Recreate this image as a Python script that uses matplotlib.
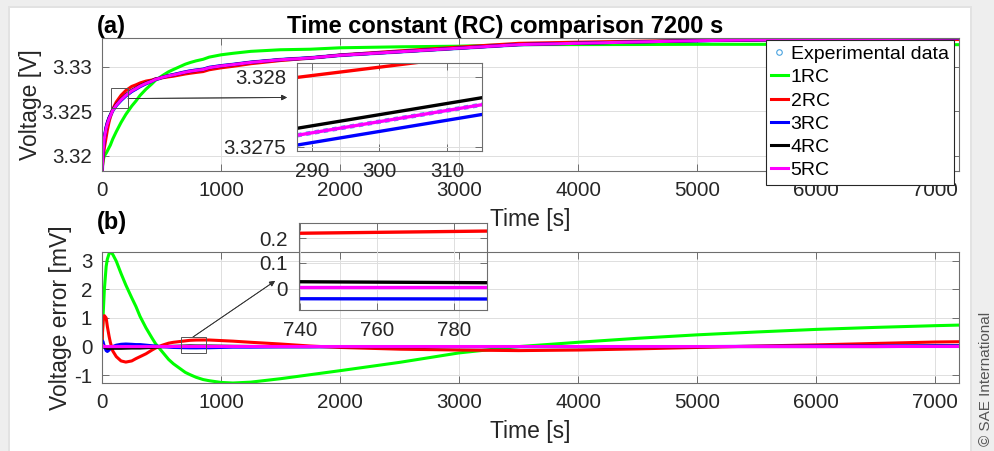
import matplotlib
matplotlib.use('Agg')
import numpy as np
import matplotlib.pyplot as plt
from matplotlib.patches import Rectangle
from matplotlib.lines import Line2D
from matplotlib.ticker import FuncFormatter

# time [s]
t = [0, 5, 10, 20, 35, 45, 60, 70, 90, 120, 160, 200, 250, 285, 300, 320,
     370, 420, 450, 480, 500, 560, 600, 700, 740, 790, 850, 900, 1000, 1100,
     1250, 1500, 1750, 2000, 2500, 3000, 3500, 4000, 4500, 5000, 5500, 6000,
     6500, 7000, 7200]

# measured voltage [V]
v_exp = [3.3183, 3.3196, 3.3207, 3.3220, 3.3231, 3.3236, 3.3242, 3.3245,
         3.3251, 3.3257, 3.3263, 3.3268, 3.3273, 3.32756, 3.32768, 3.32784,
         3.32815, 3.3284, 3.3286, 3.3287, 3.3288, 3.3290, 3.3291, 3.3294,
         3.3295, 3.3296, 3.3297, 3.3299, 3.3301, 3.33025, 3.3305, 3.3308,
         3.3310, 3.3313, 3.3317, 3.3321, 3.3325, 3.33265, 3.3328, 3.33294,
         3.33304, 3.33312, 3.33318, 3.33322, 3.33324]

# voltage error (exp - model) [mV]
err_1rc = [0, 0.6, 1.15, 2.0, 2.8, 3.05, 3.25, 3.3, 3.22, 2.98, 2.55, 2.15,
           1.7, 1.4, 1.25, 1.05, 0.65, 0.3, 0.1, -0.05, -0.15, -0.45, -0.6,
           -0.9, -0.98, -1.07, -1.15, -1.19, -1.25, -1.27, -1.24, -1.12,
           -0.98, -0.84, -0.55, -0.22, 0.0, 0.15, 0.29, 0.41, 0.51, 0.6,
           0.67, 0.73, 0.75]
err_2rc = [0, 0.6, 0.9, 1.08, 1.0, 0.7, 0.35, 0.15, -0.15, -0.35, -0.5,
           -0.54, -0.5, -0.42, -0.39, -0.35, -0.25, -0.12, -0.05, 0.0, 0.04,
           0.12, 0.15, 0.2, 0.219, 0.228, 0.23, 0.23, 0.21, 0.19, 0.15, 0.09,
           0.02, -0.03, -0.09, -0.12, -0.14, -0.12, -0.08, -0.03, 0.02, 0.06,
           0.11, 0.16, 0.17]
err_3rc = [0, 0.2, 0.15, 0.0, -0.14, -0.17, -0.12, -0.07, 0.0, 0.05, 0.08,
           0.09, 0.08, 0.07, 0.07, 0.07, 0.05, 0.03, 0.02, 0.01, 0.0, -0.02,
           -0.03, -0.04, -0.043, -0.044, -0.04, -0.04, -0.03, -0.02, -0.02,
           -0.01, -0.01, 0.0, 0.0, 0.0, 0.0, 0.0, 0.0, 0.0, 0.01, 0.02, 0.02,
           0.03, 0.03]
err_4rc = [0, 0.05, 0.03, -0.02, -0.05, -0.06, -0.06, -0.06, -0.06, -0.06,
           -0.06, -0.055, -0.05, -0.05, -0.05, -0.05, -0.04, -0.03, -0.02,
           -0.01, -0.005, 0.005, 0.01, 0.02, 0.025, 0.021, 0.02, 0.02, 0.015,
           0.01, 0.005, 0.0, 0.0, 0.0, 0.0, 0.0, 0.0, 0.0, 0.0, 0.0, 0.0,
           0.0, 0.0, 0.01, 0.01]
err_5rc = [0, 0.05, 0.02, 0.0, 0.0, 0.0, 0.0, 0.0, 0.0, 0.0, 0.0, 0.0, 0.0,
           0.0, 0.0, 0.0, 0.0, 0.0, 0.0, 0.0, 0.003, 0.003, 0.003, 0.003,
           0.003, 0.003, 0.003, 0.003, 0.003, 0.003, 0.003, 0.003, 0.003,
           0.003, 0.003, 0.003, 0.003, 0.003, 0.003, 0.003, 0.003, 0.003,
           0.003, 0.003, 0.003]

labels = ['1RC', '2RC', '3RC', '4RC', '5RC']
colors = ['#00ff00', '#ff0000', '#0000ff', '#000000', '#ff00ff']
exp_color = '#4aa3df'

errs = [np.array(e) for e in (err_1rc, err_2rc, err_3rc, err_4rc, err_5rc)]
models = [np.array(v_exp) - e / 1000.0 for e in errs]

plt.rcParams['font.family'] = ['Liberation Sans', 'DejaVu Sans']

W, H = 994, 451
fig = plt.figure(figsize=(W / 100, H / 100), dpi=100)
fig.set_facecolor('#eeeeee')


def fpx(x, y):
    # pixel (from top-left) -> figure fraction
    return (x / W, 1 - y / H)


fig.add_artist(Rectangle(fpx(8, 451), 964 / W, 445 / H, transform=fig.transFigure,
                         facecolor='#e2e2e2', edgecolor='none', zorder=-11))
fig.add_artist(Rectangle(fpx(10, 451), 960 / W, 443 / H, transform=fig.transFigure,
                         facecolor='white', edgecolor='none', zorder=-10))

gfmt = FuncFormatter(lambda v, p: '%g' % v)


def style(ax, fs=14.8, pad=6):
    ax.grid(True, color='#dedede', lw=0.7)
    ax.set_axisbelow(True)
    ax.tick_params(direction='in', top=True, right=True, length=5, width=0.7,
                   color='#6e6e6e', labelcolor='#262626', labelsize=fs, pad=pad)
    for s in ax.spines.values():
        s.set_color('#6e6e6e')
        s.set_linewidth(0.8)
    ax.xaxis.set_major_formatter(gfmt)
    ax.yaxis.set_major_formatter(gfmt)


# ---- panel (a)
ax_a = fig.add_axes([102 / W, 1 - 171 / H, 857 / W, 133 / H])
ax_a.plot(t, v_exp, color=exp_color, lw=2.8)
for v, c in zip(models, colors):
    ax_a.plot(t, v, color=c, lw=2.2)
all_v = np.concatenate([np.array(v_exp)] + models)
ax_a.set_xlim(0, 7200)
ax_a.set_ylim(all_v.min(), all_v.max())
ax_a.set_xticks(range(0, 7001, 1000))
ax_a.set_yticks([3.32, 3.325, 3.33])
style(ax_a, pad=7)
ax_a.set_xlabel('Time [s]', fontsize=16.5, color='#262626')
ax_a.xaxis.set_label_coords(0.5, -0.278)
ax_a.set_ylabel('Voltage [V]', fontsize=16.5, color='#262626')
ax_a.yaxis.set_label_coords(-0.070, 0.5)

handles = [Line2D([], [], ls='none', marker='o', ms=4, mfc='none', mec=exp_color, mew=0.8)]
handles += [Line2D([], [], color=c, lw=2.2) for c in colors]
leg = ax_a.legend(handles, ['Experimental data'] + labels, loc='upper right',
                  bbox_to_anchor=(0.9942, 0.985), borderaxespad=0, fontsize=14,
                  handlelength=0.85, handletextpad=0.15, labelspacing=0.29,
                  borderpad=0.28, fancybox=False, framealpha=1, edgecolor='#262626')
leg.get_frame().set_linewidth(0.8)
leg.set_zorder(20)

# inset (a)
ax_ia = fig.add_axes([297 / W, 1 - 151 / H, 185 / W, 88 / H])
ax_ia.set_facecolor('none')
ax_ia.plot(t, v_exp, color=exp_color, lw=3.2, ls=(0, (1, 1)))
for v, c in zip(models, colors):
    ax_ia.plot(t, v, color=c, lw=2.4)
ax_ia.set_xlim(287.8, 315.2)
ax_ia.set_ylim(3.32747, 3.32810)
ax_ia.set_xticks([290, 300, 310])
ax_ia.set_yticks([3.3275, 3.328])
style(ax_ia, pad=8)

# ---- panel (b)
ax_b = fig.add_axes([102 / W, 1 - 383 / H, 857 / W, 131 / H])
for e, c in zip(errs, colors):
    ax_b.plot(t, e, color=c, lw=2.2)
all_e = np.concatenate(errs)
ax_b.set_xlim(0, 7200)
ax_b.set_ylim(all_e.min(), all_e.max())
ax_b.set_xticks(range(0, 7001, 1000))
ax_b.set_yticks([-1, 0, 1, 2, 3])
style(ax_b, pad=7)
ax_b.set_xlabel('Time [s]', fontsize=16.5, color='#262626')
ax_b.xaxis.set_label_coords(0.5, -0.282)
ax_b.set_ylabel('Voltage error [mV]', fontsize=16.5, color='#262626')
ax_b.yaxis.set_label_coords(-0.035, 0.5)

# inset (b)
ax_ib = fig.add_axes([299 / W, 1 - 310 / H, 188 / W, 87 / H])
ax_ib.set_facecolor('none')
for e, c in zip(errs, colors):
    ax_ib.plot(t, e, color=c, lw=2.4)
ax_ib.set_xlim(739.7, 788.5)
ax_ib.set_ylim(-0.088, 0.26)
ax_ib.set_xticks([740, 760, 780])
ax_ib.set_yticks([0, 0.1, 0.2])
style(ax_ib, pad=8)

# zoom boxes and arrows
for (x0, y0, x1, y1) in [(111, 88, 128, 108), (181, 337, 206, 353)]:
    fig.add_artist(Rectangle(fpx(x0, y1), (x1 - x0) / W, (y1 - y0) / H,
                             transform=fig.transFigure, fill=False,
                             edgecolor='#555555', lw=0.7, zorder=15))
for (xs, ys, xe, ye) in [(128, 98.5, 287, 97.5), (193, 337, 275, 281)]:
    fig.add_artist(plt.annotate('', xy=fpx(xe, ye), xytext=fpx(xs, ys),
                                xycoords='figure fraction', textcoords='figure fraction',
                                arrowprops=dict(arrowstyle='-|>', lw=0.6, color='#333333',
                                                mutation_scale=8, shrinkA=0, shrinkB=0)))

# titles and labels
fig.text(*fpx(505, 26), 'Time constant (RC) comparison 7200 s', ha='center', va='center',
         fontsize=17, fontweight='bold')
fig.text(*fpx(97, 27), '(a)', ha='left', va='center', fontsize=17, fontweight='bold')
fig.text(*fpx(97, 223), '(b)', ha='left', va='center', fontsize=17, fontweight='bold')
fig.text(*fpx(986, 379), '\u00a9 SAE International', rotation=90, ha='center', va='center',
         fontsize=11, color='#555555')

fig.savefig('out.png', dpi=100, facecolor=fig.get_facecolor())
